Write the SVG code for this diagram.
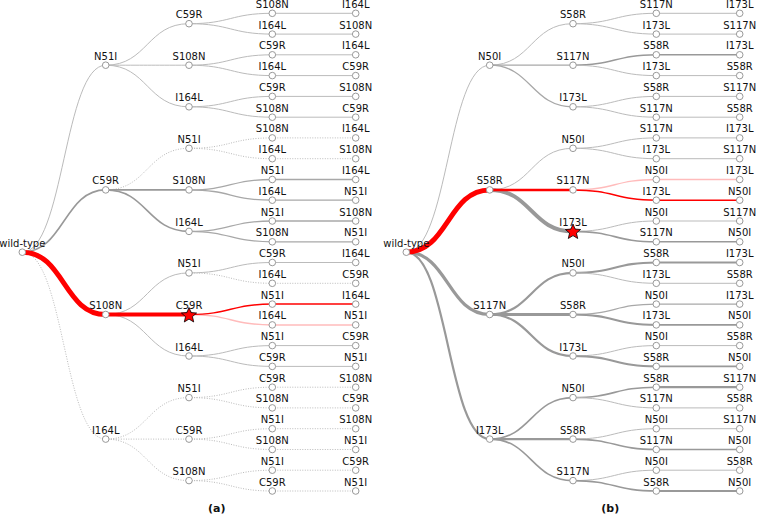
<svg xmlns="http://www.w3.org/2000/svg" width="758" height="514" viewBox="0 0 758 514">
<style>
path{fill:none}
.w1{stroke:#bbb;stroke-width:1}
.w12{stroke:#a8a8a8;stroke-width:1.3}
.g15{stroke:#999;stroke-width:1.6}
.g2{stroke:#999;stroke-width:2.2}
.g25{stroke:#999;stroke-width:2.8}
.g3{stroke:#999;stroke-width:3.2}
.g4{stroke:#999;stroke-width:4}
.dt{stroke:#bbb;stroke-width:1;stroke-dasharray:1 1.5}
.r5{stroke:#f00;stroke-width:5}
.r4{stroke:#f00;stroke-width:4}
.r25{stroke:#f00;stroke-width:2.5}
.r15{stroke:#f00;stroke-width:1.5}
.pk{stroke:#fbb;stroke-width:1.5}
circle{fill:#fff;stroke:#999;stroke-width:1}
text{font-family:"DejaVu Sans",sans-serif;font-size:10px;text-anchor:middle;fill:#111}
.cap{font-weight:bold;font-size:11px}
.star{fill:#f00;stroke:#000;stroke-width:0.8}
</style>
<defs>
<polygon id="star" class="star" points="0,-8 2.116,-2.912 7.608,-2.472 3.424,1.112 4.702,6.472 0,3.6 -4.702,6.472 -3.424,1.112 -7.608,-2.472 -2.116,-2.912"/>
</defs>
<rect width="758" height="514" fill="#fff"/>

<!-- ===================== TREE (a) ===================== -->
<g id="a-edges">
<path class="w1" d="M22.3,252.2C64,252.2 64,65.2 105.7,65.2"/>
<path class="g15" d="M22.3,252.2C64,252.2 64,189.9 105.7,189.9"/>
<path class="dt" d="M22.3,252.2C64,252.2 64,439.1 105.7,439.1"/>
<path class="w1" d="M105.7,65.2C147.3,65.2 147.3,23.7 189,23.7"/>
<path class="w1" d="M105.7,65.2C147.3,65.2 147.3,65.2 189,65.2"/>
<path class="w1" d="M105.7,65.2C147.3,65.2 147.3,106.8 189,106.8"/>
<path class="dt" d="M105.7,189.9C147.3,189.9 147.3,148.3 189,148.3"/>
<path class="g15" d="M105.7,189.9C147.3,189.9 147.3,189.9 189,189.9"/>
<path class="g15" d="M105.7,189.9C147.3,189.9 147.3,231.4 189,231.4"/>
<path class="w1" d="M105.7,314.5C147.3,314.5 147.3,272.9 189,272.9"/>
<path class="w1" d="M105.7,314.5C147.3,314.5 147.3,356 189,356"/>
<path class="dt" d="M105.7,439.1C147.3,439.1 147.3,397.6 189,397.6"/>
<path class="dt" d="M105.7,439.1C147.3,439.1 147.3,439.1 189,439.1"/>
<path class="dt" d="M105.7,439.1C147.3,439.1 147.3,480.6 189,480.6"/>
<path class="w1" d="M189,23.7C230.7,23.7 230.7,13.3 272.3,13.3"/>
<path class="w1" d="M189,23.7C230.7,23.7 230.7,34.1 272.3,34.1"/>
<path class="w1" d="M189,65.2C230.7,65.2 230.7,54.8 272.3,54.8"/>
<path class="w1" d="M189,65.2C230.7,65.2 230.7,75.6 272.3,75.6"/>
<path class="w1" d="M189,106.8C230.7,106.8 230.7,96.4 272.3,96.4"/>
<path class="w1" d="M189,106.8C230.7,106.8 230.7,117.2 272.3,117.2"/>
<path class="dt" d="M189,148.3C230.7,148.3 230.7,137.9 272.3,137.9"/>
<path class="dt" d="M189,148.3C230.7,148.3 230.7,158.7 272.3,158.7"/>
<path class="w12" d="M189,189.9C230.7,189.9 230.7,179.5 272.3,179.5"/>
<path class="w12" d="M189,189.9C230.7,189.9 230.7,200.2 272.3,200.2"/>
<path class="w12" d="M189,231.4C230.7,231.4 230.7,221 272.3,221"/>
<path class="w12" d="M189,231.4C230.7,231.4 230.7,241.8 272.3,241.8"/>
<path class="w1" d="M189,272.9C230.7,272.9 230.7,262.5 272.3,262.5"/>
<path class="dt" d="M189,272.9C230.7,272.9 230.7,283.3 272.3,283.3"/>
<path class="w1" d="M189,356C230.7,356 230.7,345.6 272.3,345.6"/>
<path class="w1" d="M189,356C230.7,356 230.7,366.4 272.3,366.4"/>
<path class="dt" d="M189,397.6C230.7,397.6 230.7,387.2 272.3,387.2"/>
<path class="dt" d="M189,397.6C230.7,397.6 230.7,407.9 272.3,407.9"/>
<path class="dt" d="M189,439.1C230.7,439.1 230.7,428.7 272.3,428.7"/>
<path class="dt" d="M189,439.1C230.7,439.1 230.7,449.5 272.3,449.5"/>
<path class="dt" d="M189,480.6C230.7,480.6 230.7,470.2 272.3,470.2"/>
<path class="dt" d="M189,480.6C230.7,480.6 230.7,491 272.3,491"/>
<path class="w1" d="M272.3,13.3H355.7"/>
<path class="w1" d="M272.3,34.1H355.7"/>
<path class="w1" d="M272.3,54.8H355.7"/>
<path class="w1" d="M272.3,75.6H355.7"/>
<path class="w1" d="M272.3,96.4H355.7"/>
<path class="w1" d="M272.3,117.2H355.7"/>
<path class="dt" d="M272.3,137.9H355.7"/>
<path class="dt" d="M272.3,158.7H355.7"/>
<path class="w12" d="M272.3,179.5H355.7"/>
<path class="w12" d="M272.3,200.2H355.7"/>
<path class="w12" d="M272.3,221H355.7"/>
<path class="w12" d="M272.3,241.8H355.7"/>
<path class="w1" d="M272.3,262.5H355.7"/>
<path class="dt" d="M272.3,283.3H355.7"/>
<path class="w1" d="M272.3,345.6H355.7"/>
<path class="w1" d="M272.3,366.4H355.7"/>
<path class="dt" d="M272.3,387.2H355.7"/>
<path class="dt" d="M272.3,407.9H355.7"/>
<path class="dt" d="M272.3,428.7H355.7"/>
<path class="dt" d="M272.3,449.5H355.7"/>
<path class="dt" d="M272.3,470.2H355.7"/>
<path class="dt" d="M272.3,491H355.7"/>
<path class="pk" d="M189,314.5C230.7,314.5 230.7,324.9 272.3,324.9"/>
<path class="pk" d="M272.3,324.9H355.7"/>
<path class="r15" d="M189,314.5C230.7,314.5 230.7,304.1 272.3,304.1"/>
<path class="r15" d="M272.3,304.1H355.7"/>
<path class="r4" d="M105.7,314.5C147.3,314.5 147.3,314.5 189,314.5"/>
<path class="r5" d="M22.3,252.2C64,252.2 64,314.5 105.7,314.5"/>
</g>

<g id="a-nodes">
<g id="a-root"><circle cx="22.3" cy="252.2" r="3.3"/><text x="22.3" y="246.7">wild-type</text></g>
<g id="a-N51I"><circle cx="105.7" cy="65.2" r="3.3"/><text x="105.7" y="59.7">N51I</text></g>
<g id="a-C59R"><circle cx="105.7" cy="189.9" r="3.3"/><text x="105.7" y="184.4">C59R</text></g>
<g id="a-S108N"><circle cx="105.7" cy="314.5" r="3.3"/><text x="105.7" y="309">S108N</text></g>
<g id="a-I164L"><circle cx="105.7" cy="439.1" r="3.3"/><text x="105.7" y="433.6">I164L</text></g>
<g id="a-N51I-C59R"><circle cx="189" cy="23.7" r="3.3"/><text x="189" y="18.2">C59R</text></g>
<g id="a-N51I-S108N"><circle cx="189" cy="65.2" r="3.3"/><text x="189" y="59.7">S108N</text></g>
<g id="a-N51I-I164L"><circle cx="189" cy="106.8" r="3.3"/><text x="189" y="101.3">I164L</text></g>
<g id="a-C59R-N51I"><circle cx="189" cy="148.3" r="3.3"/><text x="189" y="142.8">N51I</text></g>
<g id="a-C59R-S108N"><circle cx="189" cy="189.9" r="3.3"/><text x="189" y="184.4">S108N</text></g>
<g id="a-C59R-I164L"><circle cx="189" cy="231.4" r="3.3"/><text x="189" y="225.9">I164L</text></g>
<g id="a-S108N-N51I"><circle cx="189" cy="272.9" r="3.3"/><text x="189" y="267.4">N51I</text></g>
<g id="a-S108N-C59R"><circle cx="189" cy="314.5" r="3.3"/><text x="189" y="309">C59R</text><use href="#star" x="189" y="315.5"/></g>
<g id="a-S108N-I164L"><circle cx="189" cy="356" r="3.3"/><text x="189" y="350.5">I164L</text></g>
<g id="a-I164L-N51I"><circle cx="189" cy="397.6" r="3.3"/><text x="189" y="392.1">N51I</text></g>
<g id="a-I164L-C59R"><circle cx="189" cy="439.1" r="3.3"/><text x="189" y="433.6">C59R</text></g>
<g id="a-I164L-S108N"><circle cx="189" cy="480.6" r="3.3"/><text x="189" y="475.1">S108N</text></g>

<g id="a-l3-0"><circle cx="272.3" cy="13.3" r="3.3"/><text x="272.3" y="7.8">S108N</text></g>
<g id="a-l3-1"><circle cx="272.3" cy="34.1" r="3.3"/><text x="272.3" y="28.6">I164L</text></g>
<g id="a-l3-2"><circle cx="272.3" cy="54.8" r="3.3"/><text x="272.3" y="49.3">C59R</text></g>
<g id="a-l3-3"><circle cx="272.3" cy="75.6" r="3.3"/><text x="272.3" y="70.1">I164L</text></g>
<g id="a-l3-4"><circle cx="272.3" cy="96.4" r="3.3"/><text x="272.3" y="90.9">C59R</text></g>
<g id="a-l3-5"><circle cx="272.3" cy="117.2" r="3.3"/><text x="272.3" y="111.7">S108N</text></g>
<g id="a-l3-6"><circle cx="272.3" cy="137.9" r="3.3"/><text x="272.3" y="132.4">S108N</text></g>
<g id="a-l3-7"><circle cx="272.3" cy="158.7" r="3.3"/><text x="272.3" y="153.2">I164L</text></g>
<g id="a-l3-8"><circle cx="272.3" cy="179.5" r="3.3"/><text x="272.3" y="174">N51I</text></g>
<g id="a-l3-9"><circle cx="272.3" cy="200.2" r="3.3"/><text x="272.3" y="194.7">I164L</text></g>
<g id="a-l3-10"><circle cx="272.3" cy="221" r="3.3"/><text x="272.3" y="215.5">N51I</text></g>
<g id="a-l3-11"><circle cx="272.3" cy="241.8" r="3.3"/><text x="272.3" y="236.3">S108N</text></g>
<g id="a-l3-12"><circle cx="272.3" cy="262.5" r="3.3"/><text x="272.3" y="257">C59R</text></g>
<g id="a-l3-13"><circle cx="272.3" cy="283.3" r="3.3"/><text x="272.3" y="277.8">I164L</text></g>
<g id="a-l3-14"><circle cx="272.3" cy="304.1" r="3.3"/><text x="272.3" y="298.6">N51I</text></g>
<g id="a-l3-15"><circle cx="272.3" cy="324.9" r="3.3"/><text x="272.3" y="319.4">I164L</text></g>
<g id="a-l3-16"><circle cx="272.3" cy="345.6" r="3.3"/><text x="272.3" y="340.1">N51I</text></g>
<g id="a-l3-17"><circle cx="272.3" cy="366.4" r="3.3"/><text x="272.3" y="360.9">C59R</text></g>
<g id="a-l3-18"><circle cx="272.3" cy="387.2" r="3.3"/><text x="272.3" y="381.7">C59R</text></g>
<g id="a-l3-19"><circle cx="272.3" cy="407.9" r="3.3"/><text x="272.3" y="402.4">S108N</text></g>
<g id="a-l3-20"><circle cx="272.3" cy="428.7" r="3.3"/><text x="272.3" y="423.2">N51I</text></g>
<g id="a-l3-21"><circle cx="272.3" cy="449.5" r="3.3"/><text x="272.3" y="444">S108N</text></g>
<g id="a-l3-22"><circle cx="272.3" cy="470.2" r="3.3"/><text x="272.3" y="464.7">N51I</text></g>
<g id="a-l3-23"><circle cx="272.3" cy="491" r="3.3"/><text x="272.3" y="485.5">C59R</text></g>

<g id="a-l4-0"><circle cx="355.7" cy="13.3" r="3.3"/><text x="355.7" y="7.8">I164L</text></g>
<g id="a-l4-1"><circle cx="355.7" cy="34.1" r="3.3"/><text x="355.7" y="28.6">S108N</text></g>
<g id="a-l4-2"><circle cx="355.7" cy="54.8" r="3.3"/><text x="355.7" y="49.3">I164L</text></g>
<g id="a-l4-3"><circle cx="355.7" cy="75.6" r="3.3"/><text x="355.7" y="70.1">C59R</text></g>
<g id="a-l4-4"><circle cx="355.7" cy="96.4" r="3.3"/><text x="355.7" y="90.9">S108N</text></g>
<g id="a-l4-5"><circle cx="355.7" cy="117.2" r="3.3"/><text x="355.7" y="111.7">C59R</text></g>
<g id="a-l4-6"><circle cx="355.7" cy="137.9" r="3.3"/><text x="355.7" y="132.4">I164L</text></g>
<g id="a-l4-7"><circle cx="355.7" cy="158.7" r="3.3"/><text x="355.7" y="153.2">S108N</text></g>
<g id="a-l4-8"><circle cx="355.7" cy="179.5" r="3.3"/><text x="355.7" y="174">I164L</text></g>
<g id="a-l4-9"><circle cx="355.7" cy="200.2" r="3.3"/><text x="355.7" y="194.7">N51I</text></g>
<g id="a-l4-10"><circle cx="355.7" cy="221" r="3.3"/><text x="355.7" y="215.5">S108N</text></g>
<g id="a-l4-11"><circle cx="355.7" cy="241.8" r="3.3"/><text x="355.7" y="236.3">N51I</text></g>
<g id="a-l4-12"><circle cx="355.7" cy="262.5" r="3.3"/><text x="355.7" y="257">I164L</text></g>
<g id="a-l4-13"><circle cx="355.7" cy="283.3" r="3.3"/><text x="355.7" y="277.8">C59R</text></g>
<g id="a-l4-14"><circle cx="355.7" cy="304.1" r="3.3"/><text x="355.7" y="298.6">I164L</text></g>
<g id="a-l4-15"><circle cx="355.7" cy="324.9" r="3.3"/><text x="355.7" y="319.4">N51I</text></g>
<g id="a-l4-16"><circle cx="355.7" cy="345.6" r="3.3"/><text x="355.7" y="340.1">C59R</text></g>
<g id="a-l4-17"><circle cx="355.7" cy="366.4" r="3.3"/><text x="355.7" y="360.9">N51I</text></g>
<g id="a-l4-18"><circle cx="355.7" cy="387.2" r="3.3"/><text x="355.7" y="381.7">S108N</text></g>
<g id="a-l4-19"><circle cx="355.7" cy="407.9" r="3.3"/><text x="355.7" y="402.4">C59R</text></g>
<g id="a-l4-20"><circle cx="355.7" cy="428.7" r="3.3"/><text x="355.7" y="423.2">S108N</text></g>
<g id="a-l4-21"><circle cx="355.7" cy="449.5" r="3.3"/><text x="355.7" y="444">N51I</text></g>
<g id="a-l4-22"><circle cx="355.7" cy="470.2" r="3.3"/><text x="355.7" y="464.7">C59R</text></g>
<g id="a-l4-23"><circle cx="355.7" cy="491" r="3.3"/><text x="355.7" y="485.5">N51I</text></g>
</g>
<text id="a-caption" class="cap" x="216.7" y="511.5">(a)</text>

<!-- ===================== TREE (b) ===================== -->
<g transform="translate(384 0)">
<g id="b-edges">
<path class="w1" d="M22.3,252.2C64,252.2 64,65.2 105.7,65.2"/>
<path class="g3" d="M22.3,252.2C64,252.2 64,314.5 105.7,314.5"/>
<path class="g2" d="M22.3,252.2C64,252.2 64,439.1 105.7,439.1"/>
<path class="w1" d="M105.7,65.2C147.3,65.2 147.3,23.7 189,23.7"/>
<path class="w12" d="M105.7,65.2C147.3,65.2 147.3,65.2 189,65.2"/>
<path class="w12" d="M105.7,65.2C147.3,65.2 147.3,106.8 189,106.8"/>
<path class="w1" d="M105.7,189.9C147.3,189.9 147.3,148.3 189,148.3"/>
<path class="g4" d="M105.7,189.9C147.3,189.9 147.3,231.4 189,231.4"/>
<path class="g2" d="M105.7,314.5C147.3,314.5 147.3,272.9 189,272.9"/>
<path class="g25" d="M105.7,314.5C147.3,314.5 147.3,314.5 189,314.5"/>
<path class="g2" d="M105.7,314.5C147.3,314.5 147.3,356 189,356"/>
<path class="g15" d="M105.7,439.1C147.3,439.1 147.3,397.6 189,397.6"/>
<path class="g2" d="M105.7,439.1C147.3,439.1 147.3,439.1 189,439.1"/>
<path class="g15" d="M105.7,439.1C147.3,439.1 147.3,480.6 189,480.6"/>
<path class="w1" d="M189,23.7C230.7,23.7 230.7,13.3 272.3,13.3"/>
<path class="w1" d="M189,23.7C230.7,23.7 230.7,34.1 272.3,34.1"/>
<path class="g15" d="M189,65.2C230.7,65.2 230.7,54.8 272.3,54.8"/>
<path class="w1" d="M189,65.2C230.7,65.2 230.7,75.6 272.3,75.6"/>
<path class="w1" d="M189,106.8C230.7,106.8 230.7,96.4 272.3,96.4"/>
<path class="w1" d="M189,106.8C230.7,106.8 230.7,117.2 272.3,117.2"/>
<path class="w1" d="M189,148.3C230.7,148.3 230.7,137.9 272.3,137.9"/>
<path class="w1" d="M189,148.3C230.7,148.3 230.7,158.7 272.3,158.7"/>
<path class="w1" d="M189,231.4C230.7,231.4 230.7,221 272.3,221"/>
<path class="g15" d="M189,231.4C230.7,231.4 230.7,241.8 272.3,241.8"/>
<path class="g2" d="M189,272.9C230.7,272.9 230.7,262.5 272.3,262.5"/>
<path class="w1" d="M189,272.9C230.7,272.9 230.7,283.3 272.3,283.3"/>
<path class="w12" d="M189,314.5C230.7,314.5 230.7,304.1 272.3,304.1"/>
<path class="g2" d="M189,314.5C230.7,314.5 230.7,324.9 272.3,324.9"/>
<path class="w1" d="M189,356C230.7,356 230.7,345.6 272.3,345.6"/>
<path class="g2" d="M189,356C230.7,356 230.7,366.4 272.3,366.4"/>
<path class="g15" d="M189,397.6C230.7,397.6 230.7,387.2 272.3,387.2"/>
<path class="w1" d="M189,397.6C230.7,397.6 230.7,407.9 272.3,407.9"/>
<path class="w1" d="M189,439.1C230.7,439.1 230.7,428.7 272.3,428.7"/>
<path class="g15" d="M189,439.1C230.7,439.1 230.7,449.5 272.3,449.5"/>
<path class="w1" d="M189,480.6C230.7,480.6 230.7,470.2 272.3,470.2"/>
<path class="g15" d="M189,480.6C230.7,480.6 230.7,491 272.3,491"/>
<path class="w1" d="M272.3,13.3H355.7"/>
<path class="w1" d="M272.3,34.1H355.7"/>
<path class="g15" d="M272.3,54.8H355.7"/>
<path class="w1" d="M272.3,75.6H355.7"/>
<path class="w1" d="M272.3,96.4H355.7"/>
<path class="w1" d="M272.3,117.2H355.7"/>
<path class="w1" d="M272.3,137.9H355.7"/>
<path class="w1" d="M272.3,158.7H355.7"/>
<path class="w1" d="M272.3,221H355.7"/>
<path class="g15" d="M272.3,241.8H355.7"/>
<path class="g2" d="M272.3,262.5H355.7"/>
<path class="w1" d="M272.3,283.3H355.7"/>
<path class="w12" d="M272.3,304.1H355.7"/>
<path class="g15" d="M272.3,324.9H355.7"/>
<path class="w1" d="M272.3,345.6H355.7"/>
<path class="g15" d="M272.3,366.4H355.7"/>
<path class="g2" d="M272.3,387.2H355.7"/>
<path class="w1" d="M272.3,407.9H355.7"/>
<path class="w1" d="M272.3,428.7H355.7"/>
<path class="g15" d="M272.3,449.5H355.7"/>
<path class="w1" d="M272.3,470.2H355.7"/>
<path class="g2" d="M272.3,491H355.7"/>
<path class="pk" d="M189,189.9C230.7,189.9 230.7,179.5 272.3,179.5"/>
<path class="pk" d="M272.3,179.5H355.7"/>
<path class="r15" d="M189,189.9C230.7,189.9 230.7,200.2 272.3,200.2"/>
<path class="r15" d="M272.3,200.2H355.7"/>
<path class="r25" d="M105.7,189.9C147.3,189.9 147.3,189.9 189,189.9"/>
<path class="r5" d="M22.3,252.2C64,252.2 64,189.9 105.7,189.9"/>
</g>

<g id="b-nodes">
<g id="b-root"><circle cx="22.3" cy="252.2" r="3.3"/><text x="22.3" y="246.7">wild-type</text></g>
<g id="b-N50I"><circle cx="105.7" cy="65.2" r="3.3"/><text x="105.7" y="59.7">N50I</text></g>
<g id="b-S58R"><circle cx="105.7" cy="189.9" r="3.3"/><text x="105.7" y="184.4">S58R</text></g>
<g id="b-S117N"><circle cx="105.7" cy="314.5" r="3.3"/><text x="105.7" y="309">S117N</text></g>
<g id="b-I173L"><circle cx="105.7" cy="439.1" r="3.3"/><text x="105.7" y="433.6">I173L</text></g>
<g id="b-N50I-S58R"><circle cx="189" cy="23.7" r="3.3"/><text x="189" y="18.2">S58R</text></g>
<g id="b-N50I-S117N"><circle cx="189" cy="65.2" r="3.3"/><text x="189" y="59.7">S117N</text></g>
<g id="b-N50I-I173L"><circle cx="189" cy="106.8" r="3.3"/><text x="189" y="101.3">I173L</text></g>
<g id="b-S58R-N50I"><circle cx="189" cy="148.3" r="3.3"/><text x="189" y="142.8">N50I</text></g>
<g id="b-S58R-S117N"><circle cx="189" cy="189.9" r="3.3"/><text x="189" y="184.4">S117N</text></g>
<g id="b-S58R-I173L"><circle cx="189" cy="231.4" r="3.3"/><text x="189" y="225.9">I173L</text><use href="#star" x="189" y="232"/></g>
<g id="b-S117N-N50I"><circle cx="189" cy="272.9" r="3.3"/><text x="189" y="267.4">N50I</text></g>
<g id="b-S117N-S58R"><circle cx="189" cy="314.5" r="3.3"/><text x="189" y="309">S58R</text></g>
<g id="b-S117N-I173L"><circle cx="189" cy="356" r="3.3"/><text x="189" y="350.5">I173L</text></g>
<g id="b-I173L-N50I"><circle cx="189" cy="397.6" r="3.3"/><text x="189" y="392.1">N50I</text></g>
<g id="b-I173L-S58R"><circle cx="189" cy="439.1" r="3.3"/><text x="189" y="433.6">S58R</text></g>
<g id="b-I173L-S117N"><circle cx="189" cy="480.6" r="3.3"/><text x="189" y="475.1">S117N</text></g>

<g id="b-l3-0"><circle cx="272.3" cy="13.3" r="3.3"/><text x="272.3" y="7.8">S117N</text></g>
<g id="b-l3-1"><circle cx="272.3" cy="34.1" r="3.3"/><text x="272.3" y="28.6">I173L</text></g>
<g id="b-l3-2"><circle cx="272.3" cy="54.8" r="3.3"/><text x="272.3" y="49.3">S58R</text></g>
<g id="b-l3-3"><circle cx="272.3" cy="75.6" r="3.3"/><text x="272.3" y="70.1">I173L</text></g>
<g id="b-l3-4"><circle cx="272.3" cy="96.4" r="3.3"/><text x="272.3" y="90.9">S58R</text></g>
<g id="b-l3-5"><circle cx="272.3" cy="117.2" r="3.3"/><text x="272.3" y="111.7">S117N</text></g>
<g id="b-l3-6"><circle cx="272.3" cy="137.9" r="3.3"/><text x="272.3" y="132.4">S117N</text></g>
<g id="b-l3-7"><circle cx="272.3" cy="158.7" r="3.3"/><text x="272.3" y="153.2">I173L</text></g>
<g id="b-l3-8"><circle cx="272.3" cy="179.5" r="3.3"/><text x="272.3" y="174">N50I</text></g>
<g id="b-l3-9"><circle cx="272.3" cy="200.2" r="3.3"/><text x="272.3" y="194.7">I173L</text></g>
<g id="b-l3-10"><circle cx="272.3" cy="221" r="3.3"/><text x="272.3" y="215.5">N50I</text></g>
<g id="b-l3-11"><circle cx="272.3" cy="241.8" r="3.3"/><text x="272.3" y="236.3">S117N</text></g>
<g id="b-l3-12"><circle cx="272.3" cy="262.5" r="3.3"/><text x="272.3" y="257">S58R</text></g>
<g id="b-l3-13"><circle cx="272.3" cy="283.3" r="3.3"/><text x="272.3" y="277.8">I173L</text></g>
<g id="b-l3-14"><circle cx="272.3" cy="304.1" r="3.3"/><text x="272.3" y="298.6">N50I</text></g>
<g id="b-l3-15"><circle cx="272.3" cy="324.9" r="3.3"/><text x="272.3" y="319.4">I173L</text></g>
<g id="b-l3-16"><circle cx="272.3" cy="345.6" r="3.3"/><text x="272.3" y="340.1">N50I</text></g>
<g id="b-l3-17"><circle cx="272.3" cy="366.4" r="3.3"/><text x="272.3" y="360.9">S58R</text></g>
<g id="b-l3-18"><circle cx="272.3" cy="387.2" r="3.3"/><text x="272.3" y="381.7">S58R</text></g>
<g id="b-l3-19"><circle cx="272.3" cy="407.9" r="3.3"/><text x="272.3" y="402.4">S117N</text></g>
<g id="b-l3-20"><circle cx="272.3" cy="428.7" r="3.3"/><text x="272.3" y="423.2">N50I</text></g>
<g id="b-l3-21"><circle cx="272.3" cy="449.5" r="3.3"/><text x="272.3" y="444">S117N</text></g>
<g id="b-l3-22"><circle cx="272.3" cy="470.2" r="3.3"/><text x="272.3" y="464.7">N50I</text></g>
<g id="b-l3-23"><circle cx="272.3" cy="491" r="3.3"/><text x="272.3" y="485.5">S58R</text></g>

<g id="b-l4-0"><circle cx="355.7" cy="13.3" r="3.3"/><text x="355.7" y="7.8">I173L</text></g>
<g id="b-l4-1"><circle cx="355.7" cy="34.1" r="3.3"/><text x="355.7" y="28.6">S117N</text></g>
<g id="b-l4-2"><circle cx="355.7" cy="54.8" r="3.3"/><text x="355.7" y="49.3">I173L</text></g>
<g id="b-l4-3"><circle cx="355.7" cy="75.6" r="3.3"/><text x="355.7" y="70.1">S58R</text></g>
<g id="b-l4-4"><circle cx="355.7" cy="96.4" r="3.3"/><text x="355.7" y="90.9">S117N</text></g>
<g id="b-l4-5"><circle cx="355.7" cy="117.2" r="3.3"/><text x="355.7" y="111.7">S58R</text></g>
<g id="b-l4-6"><circle cx="355.7" cy="137.9" r="3.3"/><text x="355.7" y="132.4">I173L</text></g>
<g id="b-l4-7"><circle cx="355.7" cy="158.7" r="3.3"/><text x="355.7" y="153.2">S117N</text></g>
<g id="b-l4-8"><circle cx="355.7" cy="179.5" r="3.3"/><text x="355.7" y="174">I173L</text></g>
<g id="b-l4-9"><circle cx="355.7" cy="200.2" r="3.3"/><text x="355.7" y="194.7">N50I</text></g>
<g id="b-l4-10"><circle cx="355.7" cy="221" r="3.3"/><text x="355.7" y="215.5">S117N</text></g>
<g id="b-l4-11"><circle cx="355.7" cy="241.8" r="3.3"/><text x="355.7" y="236.3">N50I</text></g>
<g id="b-l4-12"><circle cx="355.7" cy="262.5" r="3.3"/><text x="355.7" y="257">I173L</text></g>
<g id="b-l4-13"><circle cx="355.7" cy="283.3" r="3.3"/><text x="355.7" y="277.8">S58R</text></g>
<g id="b-l4-14"><circle cx="355.7" cy="304.1" r="3.3"/><text x="355.7" y="298.6">I173L</text></g>
<g id="b-l4-15"><circle cx="355.7" cy="324.9" r="3.3"/><text x="355.7" y="319.4">N50I</text></g>
<g id="b-l4-16"><circle cx="355.7" cy="345.6" r="3.3"/><text x="355.7" y="340.1">S58R</text></g>
<g id="b-l4-17"><circle cx="355.7" cy="366.4" r="3.3"/><text x="355.7" y="360.9">N50I</text></g>
<g id="b-l4-18"><circle cx="355.7" cy="387.2" r="3.3"/><text x="355.7" y="381.7">S117N</text></g>
<g id="b-l4-19"><circle cx="355.7" cy="407.9" r="3.3"/><text x="355.7" y="402.4">S58R</text></g>
<g id="b-l4-20"><circle cx="355.7" cy="428.7" r="3.3"/><text x="355.7" y="423.2">S117N</text></g>
<g id="b-l4-21"><circle cx="355.7" cy="449.5" r="3.3"/><text x="355.7" y="444">N50I</text></g>
<g id="b-l4-22"><circle cx="355.7" cy="470.2" r="3.3"/><text x="355.7" y="464.7">S58R</text></g>
<g id="b-l4-23"><circle cx="355.7" cy="491" r="3.3"/><text x="355.7" y="485.5">N50I</text></g>
</g>
</g>
<text id="b-caption" class="cap" x="610.3" y="511.5">(b)</text>
</svg>
